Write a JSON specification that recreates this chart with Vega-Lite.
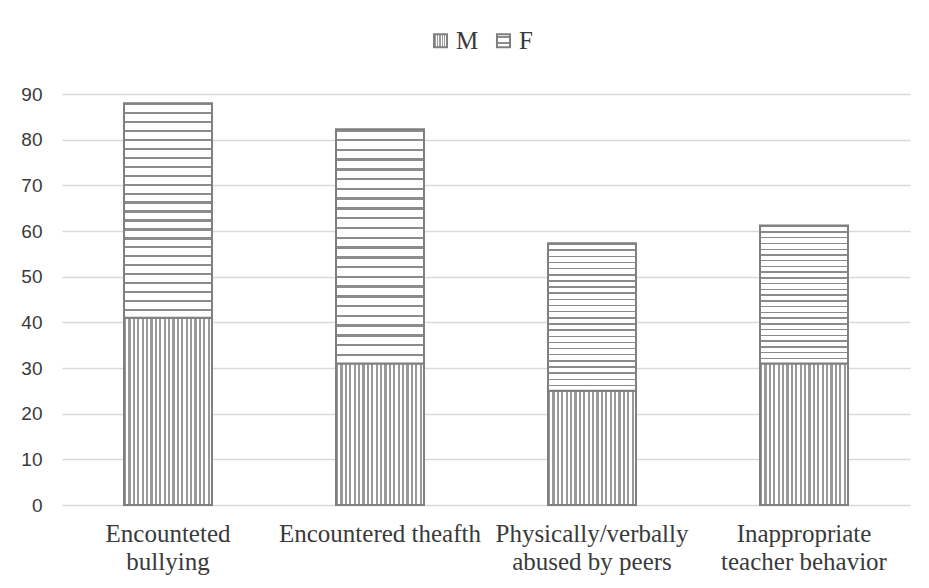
{
  "$schema": "https://vega.github.io/schema/vega-lite/v6.json",
  "width": 848,
  "height": 411,
  "autosize": {"type": "none"},
  "padding": {"left": 62, "top": 94, "right": 19, "bottom": 83},
  "background": "#ffffff",
  "data": {
    "values": [
      {"category": "Encounteted bullying", "sex": "M", "value": 41},
      {"category": "Encounteted bullying", "sex": "F", "value": 47},
      {"category": "Encountered theafth", "sex": "M", "value": 31},
      {"category": "Encountered theafth", "sex": "F", "value": 51.3},
      {"category": "Physically/verbally abused by peers", "sex": "M", "value": 25},
      {"category": "Physically/verbally abused by peers", "sex": "F", "value": 32.3},
      {"category": "Inappropriate teacher behavior", "sex": "M", "value": 31},
      {"category": "Inappropriate teacher behavior", "sex": "F", "value": 30.2}
    ]
  },
  "config": {
    "view": {"stroke": null}
  },
  "mark": {
    "type": "bar",
    "strokeWidth": 2,
    "fill": {"expr": "(datum.sex || datum.value) === 'M' ? {gradient:'linear',x1:0,y1:0,x2:1,y2:0,stops:[{offset:0,color:'#9a9a9a'},{offset:0.025,color:'#9a9a9a'},{offset:0.025,color:'#fff'},{offset:0.05,color:'#fff'},{offset:0.05,color:'#9a9a9a'},{offset:0.075,color:'#9a9a9a'},{offset:0.075,color:'#fff'},{offset:0.1,color:'#fff'},{offset:0.1,color:'#9a9a9a'},{offset:0.125,color:'#9a9a9a'},{offset:0.125,color:'#fff'},{offset:0.15,color:'#fff'},{offset:0.15,color:'#9a9a9a'},{offset:0.175,color:'#9a9a9a'},{offset:0.175,color:'#fff'},{offset:0.2,color:'#fff'},{offset:0.2,color:'#9a9a9a'},{offset:0.225,color:'#9a9a9a'},{offset:0.225,color:'#fff'},{offset:0.25,color:'#fff'},{offset:0.25,color:'#9a9a9a'},{offset:0.275,color:'#9a9a9a'},{offset:0.275,color:'#fff'},{offset:0.3,color:'#fff'},{offset:0.3,color:'#9a9a9a'},{offset:0.325,color:'#9a9a9a'},{offset:0.325,color:'#fff'},{offset:0.35,color:'#fff'},{offset:0.35,color:'#9a9a9a'},{offset:0.375,color:'#9a9a9a'},{offset:0.375,color:'#fff'},{offset:0.4,color:'#fff'},{offset:0.4,color:'#9a9a9a'},{offset:0.425,color:'#9a9a9a'},{offset:0.425,color:'#fff'},{offset:0.45,color:'#fff'},{offset:0.45,color:'#9a9a9a'},{offset:0.475,color:'#9a9a9a'},{offset:0.475,color:'#fff'},{offset:0.5,color:'#fff'},{offset:0.5,color:'#9a9a9a'},{offset:0.525,color:'#9a9a9a'},{offset:0.525,color:'#fff'},{offset:0.55,color:'#fff'},{offset:0.55,color:'#9a9a9a'},{offset:0.575,color:'#9a9a9a'},{offset:0.575,color:'#fff'},{offset:0.6,color:'#fff'},{offset:0.6,color:'#9a9a9a'},{offset:0.625,color:'#9a9a9a'},{offset:0.625,color:'#fff'},{offset:0.65,color:'#fff'},{offset:0.65,color:'#9a9a9a'},{offset:0.675,color:'#9a9a9a'},{offset:0.675,color:'#fff'},{offset:0.7,color:'#fff'},{offset:0.7,color:'#9a9a9a'},{offset:0.725,color:'#9a9a9a'},{offset:0.725,color:'#fff'},{offset:0.75,color:'#fff'},{offset:0.75,color:'#9a9a9a'},{offset:0.775,color:'#9a9a9a'},{offset:0.775,color:'#fff'},{offset:0.8,color:'#fff'},{offset:0.8,color:'#9a9a9a'},{offset:0.825,color:'#9a9a9a'},{offset:0.825,color:'#fff'},{offset:0.85,color:'#fff'},{offset:0.85,color:'#9a9a9a'},{offset:0.875,color:'#9a9a9a'},{offset:0.875,color:'#fff'},{offset:0.9,color:'#fff'},{offset:0.9,color:'#9a9a9a'},{offset:0.925,color:'#9a9a9a'},{offset:0.925,color:'#fff'},{offset:0.95,color:'#fff'},{offset:0.95,color:'#9a9a9a'},{offset:0.975,color:'#9a9a9a'},{offset:0.975,color:'#fff'},{offset:1,color:'#fff'}]} : {gradient:'linear',x1:0,y1:0,x2:0,y2:1,stops:[{offset:0,color:'#8c8c8c'},{offset:0.0104,color:'#8c8c8c'},{offset:0.0104,color:'#fff'},{offset:0.0417,color:'#fff'},{offset:0.0417,color:'#8c8c8c'},{offset:0.0521,color:'#8c8c8c'},{offset:0.0521,color:'#fff'},{offset:0.0833,color:'#fff'},{offset:0.0833,color:'#8c8c8c'},{offset:0.0938,color:'#8c8c8c'},{offset:0.0938,color:'#fff'},{offset:0.125,color:'#fff'},{offset:0.125,color:'#8c8c8c'},{offset:0.1354,color:'#8c8c8c'},{offset:0.1354,color:'#fff'},{offset:0.1667,color:'#fff'},{offset:0.1667,color:'#8c8c8c'},{offset:0.1771,color:'#8c8c8c'},{offset:0.1771,color:'#fff'},{offset:0.2083,color:'#fff'},{offset:0.2083,color:'#8c8c8c'},{offset:0.2188,color:'#8c8c8c'},{offset:0.2188,color:'#fff'},{offset:0.25,color:'#fff'},{offset:0.25,color:'#8c8c8c'},{offset:0.2604,color:'#8c8c8c'},{offset:0.2604,color:'#fff'},{offset:0.2917,color:'#fff'},{offset:0.2917,color:'#8c8c8c'},{offset:0.3021,color:'#8c8c8c'},{offset:0.3021,color:'#fff'},{offset:0.3333,color:'#fff'},{offset:0.3333,color:'#8c8c8c'},{offset:0.3438,color:'#8c8c8c'},{offset:0.3438,color:'#fff'},{offset:0.375,color:'#fff'},{offset:0.375,color:'#8c8c8c'},{offset:0.3854,color:'#8c8c8c'},{offset:0.3854,color:'#fff'},{offset:0.4167,color:'#fff'},{offset:0.4167,color:'#8c8c8c'},{offset:0.4271,color:'#8c8c8c'},{offset:0.4271,color:'#fff'},{offset:0.4583,color:'#fff'},{offset:0.4583,color:'#8c8c8c'},{offset:0.4688,color:'#8c8c8c'},{offset:0.4688,color:'#fff'},{offset:0.5,color:'#fff'},{offset:0.5,color:'#8c8c8c'},{offset:0.5104,color:'#8c8c8c'},{offset:0.5104,color:'#fff'},{offset:0.5417,color:'#fff'},{offset:0.5417,color:'#8c8c8c'},{offset:0.5521,color:'#8c8c8c'},{offset:0.5521,color:'#fff'},{offset:0.5833,color:'#fff'},{offset:0.5833,color:'#8c8c8c'},{offset:0.5938,color:'#8c8c8c'},{offset:0.5938,color:'#fff'},{offset:0.625,color:'#fff'},{offset:0.625,color:'#8c8c8c'},{offset:0.6354,color:'#8c8c8c'},{offset:0.6354,color:'#fff'},{offset:0.6667,color:'#fff'},{offset:0.6667,color:'#8c8c8c'},{offset:0.6771,color:'#8c8c8c'},{offset:0.6771,color:'#fff'},{offset:0.7083,color:'#fff'},{offset:0.7083,color:'#8c8c8c'},{offset:0.7188,color:'#8c8c8c'},{offset:0.7188,color:'#fff'},{offset:0.75,color:'#fff'},{offset:0.75,color:'#8c8c8c'},{offset:0.7604,color:'#8c8c8c'},{offset:0.7604,color:'#fff'},{offset:0.7917,color:'#fff'},{offset:0.7917,color:'#8c8c8c'},{offset:0.8021,color:'#8c8c8c'},{offset:0.8021,color:'#fff'},{offset:0.8333,color:'#fff'},{offset:0.8333,color:'#8c8c8c'},{offset:0.8438,color:'#8c8c8c'},{offset:0.8438,color:'#fff'},{offset:0.875,color:'#fff'},{offset:0.875,color:'#8c8c8c'},{offset:0.8854,color:'#8c8c8c'},{offset:0.8854,color:'#fff'},{offset:0.9167,color:'#fff'},{offset:0.9167,color:'#8c8c8c'},{offset:0.9271,color:'#8c8c8c'},{offset:0.9271,color:'#fff'},{offset:0.9583,color:'#fff'},{offset:0.9583,color:'#8c8c8c'},{offset:0.9688,color:'#8c8c8c'},{offset:0.9688,color:'#fff'},{offset:1,color:'#fff'}]}"}
  },
  "encoding": {
    "x": {
      "field": "category",
      "type": "nominal",
      "sort": null,
      "scale": {"paddingInner": 0.585, "paddingOuter": 0.2925},
      "axis": {
        "title": null,
        "labelAngle": 0,
        "labelFont": "Liberation Serif",
        "labelColor": "#3a3a3a",
        "labelFontSize": 25,
        "labelLimit": 400,
        "labelPadding": 16,
        "labelLineHeight": 28,
        "domain": false,
        "ticks": false,
        "labelExpr": "datum.value === 'Encounteted bullying' ? ['Encounteted', 'bullying'] : datum.value === 'Physically/verbally abused by peers' ? ['Physically/verbally', 'abused by peers'] : datum.value === 'Inappropriate teacher behavior' ? ['Inappropriate', 'teacher behavior'] : datum.value"
      }
    },
    "y": {
      "field": "value",
      "type": "quantitative",
      "stack": "zero",
      "scale": {"domain": [0, 90], "nice": false},
      "axis": {
        "title": null,
        "values": [0, 10, 20, 30, 40, 50, 60, 70, 80, 90],
        "labelFont": "Liberation Sans",
        "labelColor": "#3a3a3a",
        "labelFontSize": 19,
        "labelPadding": 20,
        "domain": false,
        "ticks": false,
        "gridColor": "#d9d9d9",
        "gridWidth": 1.5
      }
    },
    "order": {"field": "sex", "sort": "descending"},
    "stroke": {
      "field": "sex",
      "type": "nominal",
      "scale": {"domain": ["M", "F"], "range": ["#7f7f7f", "#7f7f7f"]},
      "legend": {
        "title": null,
        "orient": "none",
        "legendX": 366,
        "legendY": -66,
        "direction": "horizontal",
        "symbolType": "square",
        "symbolSize": 170,
        "symbolStrokeWidth": 2,
        "labelFontSize": 25,
        "labelFont": "Liberation Serif",
        "labelColor": "#3a3a3a",
        "columnPadding": 12,
        "labelOffset": 3,
        "encode": {
          "symbols": {
            "update": {
              "fill": {"signal": "datum.value === 'M' ? {gradient: 'linear', x1: 0, y1: 0, x2: 1, y2: 0, stops: [{offset: 0, color: '#9a9a9a'}, {offset: 0.2, color: '#9a9a9a'}, {offset: 0.2, color: '#ffffff'}, {offset: 0.4, color: '#ffffff'}, {offset: 0.4, color: '#9a9a9a'}, {offset: 0.6, color: '#9a9a9a'}, {offset: 0.6, color: '#ffffff'}, {offset: 0.8, color: '#ffffff'}, {offset: 0.8, color: '#9a9a9a'}, {offset: 1, color: '#9a9a9a'}]} : {gradient: 'linear', x1: 0, y1: 0, x2: 0, y2: 1, stops: [{offset: 0, color: '#ffffff'}, {offset: 0.42, color: '#ffffff'}, {offset: 0.42, color: '#8c8c8c'}, {offset: 0.58, color: '#8c8c8c'}, {offset: 0.58, color: '#ffffff'}, {offset: 1, color: '#ffffff'}]}"}
            }
          }
        }
      }
    }
  }
}
